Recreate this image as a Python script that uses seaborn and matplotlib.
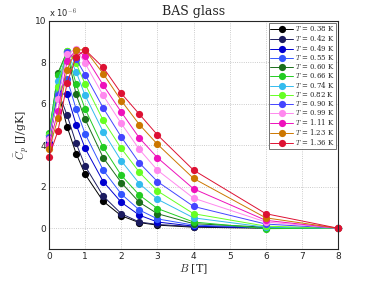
import numpy as np
import pandas as pd
import matplotlib
matplotlib.use('Agg')
import matplotlib.pyplot as plt
import seaborn as sns

# Field values (T)
B = [0, 0.25, 0.5, 0.75, 1, 1.5, 2, 2.5, 3, 4, 6, 8]

# Temperatures and their curves (Cp in units of 1e-6 J/gK)
temps = ['0.38', '0.42', '0.49', '0.55', '0.60', '0.66', '0.74',
         '0.82', '0.90', '0.99', '1.11', '1.23', '1.36']

cp_038 = [4.0, 6.6, 4.9, 3.6, 2.6, 1.3, 0.6, 0.27, 0.15, 0.05, 0.0, 0.0]
cp_042 = [4.1, 6.6, 5.45, 4.1, 3.0, 1.55, 0.7, 0.3, 0.18, 0.08, 0.02, 0.0]
cp_049 = [4.2, 6.5, 6.45, 5.0, 3.85, 2.25, 1.25, 0.63, 0.3, 0.1, 0.02, 0.0]
cp_055 = [4.3, 6.45, 7.2, 5.75, 4.55, 2.8, 1.65, 0.88, 0.45, 0.15, 0.03, 0.0]
cp_060 = [4.5, 7.5, 8.5, 6.45, 5.25, 3.4, 2.2, 1.25, 0.7, 0.22, 0.05, 0.0]
cp_066 = [4.6, 7.4, 8.55, 6.95, 5.75, 3.9, 2.55, 1.6, 0.95, 0.3, -0.02, 0.0]
cp_074 = [4.5, 7.1, 8.45, 7.55, 6.4, 4.65, 3.25, 2.15, 1.4, 0.5, 0.05, 0.0]
cp_082 = [4.5, 6.8, 8.55, 7.95, 6.95, 5.2, 3.85, 2.7, 1.8, 0.7, 0.1, 0.0]
cp_090 = [4.4, 6.4, 8.5, 8.15, 7.4, 5.8, 4.4, 3.15, 2.25, 1.05, 0.2, 0.0]
cp_099 = [4.3, 6.25, 8.4, 8.65, 7.95, 6.4, 5.05, 3.8, 2.8, 1.45, 0.3, 0.0]
cp_111 = [4.0, 5.65, 8.05, 8.6, 8.3, 6.9, 5.6, 4.35, 3.4, 1.9, 0.38, 0.0]
cp_123 = [3.8, 5.3, 7.65, 8.6, 8.6, 7.45, 6.15, 5.0, 4.05, 2.4, 0.5, 0.0]
cp_136 = [3.45, 4.7, 7.0, 8.25, 8.6, 7.75, 6.5, 5.5, 4.5, 2.8, 0.7, 0.0]

curves = [cp_038, cp_042, cp_049, cp_055, cp_060, cp_066, cp_074,
          cp_082, cp_090, cp_099, cp_111, cp_123, cp_136]

colors = ['#000000', '#1c1c60', '#0000d0', '#3355ff', '#1a6e1a', '#22cc22',
          '#33bbee', '#66ff22', '#4444ff', '#ff88ee', '#ee11bb', '#cc7700',
          '#dd1133']

rows = []
for t, c in zip(temps, curves):
    for b, v in zip(B, c):
        rows.append({'B': b, 'Cp': v, 'T': r'$T$ = ' + t + ' K'})
df = pd.DataFrame(rows)

sns.set_style('white')
plt.rcParams['mathtext.fontset'] = 'cm'
plt.rcParams['font.family'] = ['DejaVu Sans']

fig = plt.figure(figsize=(3.74, 2.81), dpi=100)
ax = fig.add_axes([0.131, 0.114, 0.773, 0.812])

sns.lineplot(data=df, x='B', y='Cp', hue='T', palette=colors, marker='o',
             markersize=5.2, markeredgewidth=0, linewidth=0.7, ax=ax)
for ln in ax.lines:
    ln.set_clip_on(False)

ax.set_xlim(0, 8)
ax.set_ylim(-1, 10)
ax.set_xticks(range(0, 9))
ax.set_yticks(range(0, 11, 2))
ax.tick_params(labelsize=6.5, direction='in', length=2.5, width=0.5, pad=2)
ax.grid(True, linestyle=':', color='#bbbbbb', linewidth=0.6)
for s in ax.spines.values():
    s.set_linewidth(0.8)
ax.text(0.0, 1.01, r'x 10$^{-6}$', transform=ax.transAxes, fontsize=6,
        ha='left', va='bottom')

ax.set_title('BAS glass', family='DejaVu Serif', fontsize=9, pad=4)
ax.set_xlabel(r'$B$ [T]', family='DejaVu Serif', fontsize=8, labelpad=1)
ax.set_ylabel(r'$\bar{C}_p$ [J/gK]', family='DejaVu Serif', fontsize=8, labelpad=2)

leg = ax.legend(loc='upper right', frameon=True, fancybox=False,
                edgecolor='#333333', borderpad=0.2, labelspacing=0.0,
                handlelength=3.3, handletextpad=0.3, borderaxespad=0.3,
                prop={'family': 'DejaVu Serif', 'size': 5.0})
leg.get_frame().set_linewidth(0.6)

fig.savefig('out.png', dpi=100)
